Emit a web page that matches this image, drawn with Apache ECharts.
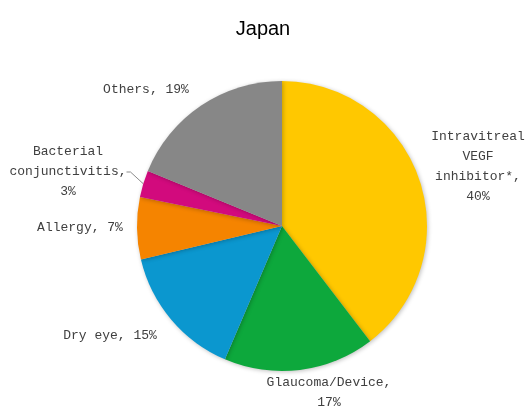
<!DOCTYPE html>
<html>
<head>
<meta charset="utf-8">
<script src="https://cdn.jsdelivr.net/npm/echarts@6/dist/echarts.min.js"></script>
<style>
  html, body { margin: 0; padding: 0; background: #fff; }
  #chart { width: 526px; height: 410px; }
</style>
</head>
<body>
<div id="chart"></div>
<script>
const categories = ['Intravitreal\nVEGF\ninhibitor*,', 'Glaucoma/Device,', 'Dry eye, ', 'Allergy, ', 'Bacterial\nconjunctivitis,', 'Others, '];
const shares = [40, 17, 15, 7, 3, 19];
const sliceColors = ['#FFC800', '#0DA83C', '#0B97CF', '#F58400', '#D20A7D', '#878787'];
// label text centres (px), hand-placed like the original layout
const labelSpots = [[478, 167], [329, 393], [110, 336], [80, 228], [68, 172], [146, 90]];
const lineBreakAfter = [true, true, false, false, true, false];

const chart = echarts.init(document.getElementById('chart'));

chart.setOption({
  backgroundColor: '#fff',
  animation: false,
  title: {
    text: 'Japan',
    left: 'center',
    top: 14,
    textStyle: { fontFamily: 'Liberation Sans', fontSize: 20, fontWeight: 'normal', color: '#000' }
  },
  series: [
    {
      type: 'pie',
      center: [282, 226],
      radius: [0, 145],
      startAngle: 90,
      clockwise: true,
      itemStyle: {
        shadowBlur: 4,
        shadowColor: 'rgba(0,0,0,0.25)',
        shadowOffsetX: 1,
        shadowOffsetY: 1
      },
      label: {
        show: true,
        position: 'outside',
        overflow: 'none',
        bleedMargin: 0,
        fontFamily: 'Liberation Mono',
        fontSize: 13,
        lineHeight: 20,
        color: '#404040',
        align: 'center',
        formatter: (p) => p.name + (lineBreakAfter[p.dataIndex] ? '\n' : '') + p.value + '%'
      },
      labelLine: { show: false },
      labelLayout: (params) => {
        const spot = labelSpots[params.dataIndex];
        return { x: spot[0], y: spot[1], align: 'center', verticalAlign: 'middle' };
      },
      data: categories.map((name, i) => ({
        name: name,
        value: shares[i],
        itemStyle: { color: sliceColors[i] },
        labelLine: i === 4
          ? { show: true, length: 4, length2: 4, smooth: false, lineStyle: { color: '#8c8c8c', width: 1 } }
          : { show: false }
      }))
    }
  ]
});
</script>
</body>
</html>
